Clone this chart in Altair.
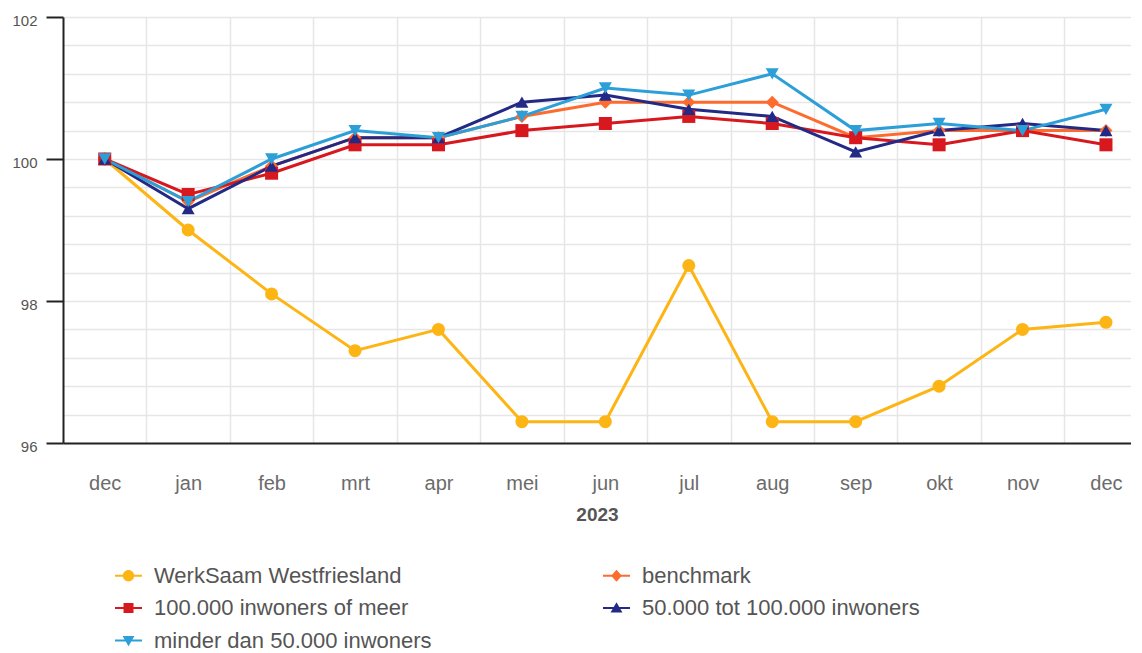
import altair as alt
import pandas as pd

months = ["dec", "jan", "feb", "mrt", "apr", "mei", "jun", "jul", "aug", "sep", "okt", "nov", "dec"]
series_names = [
    "WerkSaam Westfriesland",
    "benchmark",
    "100.000 inwoners of meer",
    "50.000 tot 100.000 inwoners",
    "minder dan 50.000 inwoners",
]
werksaam = [100.0, 99.0, 98.1, 97.3, 97.6, 96.3, 96.3, 98.5, 96.3, 96.3, 96.8, 97.6, 97.7]
benchmark = [100.0, 99.4, 99.9, 100.3, 100.3, 100.6, 100.8, 100.8, 100.8, 100.3, 100.4, 100.4, 100.4]
groot = [100.0, 99.5, 99.8, 100.2, 100.2, 100.4, 100.5, 100.6, 100.5, 100.3, 100.2, 100.4, 100.2]
middel = [100.0, 99.3, 99.9, 100.3, 100.3, 100.8, 100.9, 100.7, 100.6, 100.1, 100.4, 100.5, 100.4]
klein = [100.0, 99.4, 100.0, 100.4, 100.3, 100.6, 101.0, 100.9, 101.2, 100.4, 100.5, 100.4, 100.7]
colors = ["#fdb515", "#fe6b2e", "#d7191f", "#232a85", "#2c9fd8"]
shapes = ["circle", "diamond", "square", "triangle-up", "triangle-down"]
x_title = "2023"
y_min, y_max, y_step = 96, 102, 0.4

# legend symbols: short line with the marker on it
line_path = "M-1,-0.08H1V0.08H-1Z"
legend_paths = [
    line_path + "M0.42,0A0.42,0.42,0,1,1,-0.42,0A0.42,0.42,0,1,1,0.42,0Z",
    line_path + "M0,-0.44L0.4,0L0,0.44L-0.4,0Z",
    line_path + "M-0.37,-0.37H0.37V0.37H-0.37Z",
    line_path + "M0,-0.42L0.44,0.34H-0.44Z",
    line_path + "M0,0.42L-0.44,-0.34H0.44Z",
]

rows = []
for name, vals in zip(series_names, [werksaam, benchmark, groot, middel, klein]):
    for i, v in enumerate(vals):
        rows.append({"series": name, "idx": i, "month": months[i], "value": v})
df = pd.DataFrame(rows)

n = len(months)
x_vals = list(range(n)) + [i + 0.5 for i in range(n - 1)]
month_js = "[" + ",".join(f"'{m}'" for m in months) + "]"
y_vals = [round(y_min + y_step * i, 1) for i in range(int(round((y_max - y_min) / y_step)) + 1)]
major_test = "abs(datum.value - round(datum.value / 2) * 2) < 0.01"

x_enc = alt.X(
    "idx:Q",
    scale=alt.Scale(domain=[-0.5, n - 0.7], nice=False, zero=False),
    axis=alt.Axis(
        values=x_vals,
        labelExpr=f"datum.value % 1 == 0 ? {month_js}[datum.value] : ''",
        title=x_title,
        grid=True,
        gridColor={"condition": {"test": "datum.value % 1 != 0", "value": "#e6e6e6"}, "value": "transparent"},
        gridWidth=1.5,
        ticks=False,
        domainColor="#222222",
        domainWidth=2,
        labelFontSize=20,
        labelColor="#6b6b6b",
        labelPadding=30,
        labelOverlap=False,
        labelFlush=False,
        titleFontSize=19,
        titleFontWeight="bold",
        titleColor="#555555",
        titlePadding=12,
    ),
)
y_enc = alt.Y(
    "value:Q",
    scale=alt.Scale(domain=[y_min, y_max], nice=False, zero=False),
    axis=alt.Axis(
        values=y_vals,
        labelExpr=f"{major_test} ? format(datum.value, 'd') : ''",
        title=None,
        grid=True,
        gridColor="#e6e6e6",
        gridWidth=1.5,
        tickColor={"condition": {"test": major_test, "value": "#222222"}, "value": "transparent"},
        tickSize=17,
        tickWidth=2,
        domainColor="#222222",
        domainWidth=2,
        labelFontSize=15,
        labelColor="#555555",
        labelPadding=9,
        labelOffset=3,
        labelOverlap=False,
        labelFlush=False,
    ),
)

color_scale = alt.Scale(domain=series_names, range=colors)
base = alt.Chart(df)

lines = base.mark_line(strokeWidth=3).encode(
    x=x_enc, y=y_enc, color=alt.Color("series:N", scale=color_scale, legend=None)
)
points = base.mark_point(filled=True, size=170, opacity=1).encode(
    x=x_enc,
    y=y_enc,
    color=alt.Color("series:N", scale=color_scale, legend=None),
    shape=alt.Shape("series:N", scale=alt.Scale(domain=series_names, range=shapes), legend=None),
)
legend_def = alt.Legend(
    title=None,
    orient="none",
    direction="horizontal",
    legendX=52,
    legendY=545,
    columns=2,
    columnPadding=171,
    rowPadding=7.5,
    symbolSize=729,
    symbolStrokeWidth=0,
    labelFontSize=22,
    labelColor="#555555",
    labelOffset=12,
    labelLimit=500,
    padding=0,
)
legend_layer = (
    base.transform_filter("datum.value < 0")
    .transform_calculate(lg="datum.series")
    .mark_point(filled=True, opacity=1)
    .encode(
        x=x_enc,
        y=y_enc,
        color=alt.Color("lg:N", scale=color_scale, legend=legend_def),
        shape=alt.Shape("lg:N", scale=alt.Scale(domain=series_names, range=legend_paths), legend=legend_def),
    )
)

chart = (
    alt.layer(lines, points, legend_layer)
    .resolve_scale(color="independent", shape="independent")
    .properties(width=1068, height=426, padding={"left": 3, "top": 5, "right": 0, "bottom": 0})
    .configure(font="Liberation Sans")
    .configure_view(stroke=None)
)

chart.save("out.html", embed_options={"renderer": "svg", "actions": False})
